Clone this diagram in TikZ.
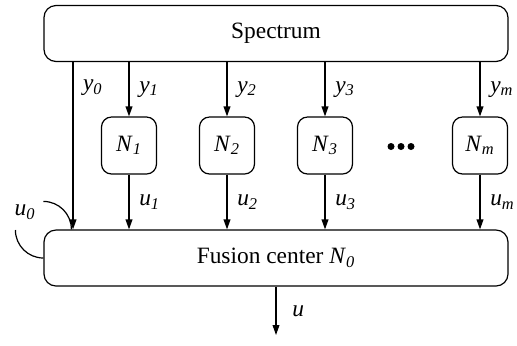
\documentclass[tikz,border=0pt]{standalone}
\usepackage{fontspec}
\setmainfont{Liberation Serif}
\usetikzlibrary{arrows.meta,positioning}
\tikzset{
  bigbox/.style={draw, rounded corners=6pt, minimum width=232pt, minimum height=28pt, line width=0.6pt, inner sep=0pt},
  sensor/.style={draw, rounded corners=5pt, minimum width=27.5pt, minimum height=28.5pt, line width=0.6pt, inner sep=0pt},
  sigln/.style={-{Triangle[length=5pt,width=3.4pt]}, line width=0.6pt},
  thinln/.style={line width=0.6pt},
}
\newcommand{\itsub}[2]{\textit{#1}\textsubscript{\textit{#2}}}

\begin{document}
\begin{tikzpicture}[x=0.5pt, y=-0.5pt, font=\fontsize{11.7}{14}\selectfont]
    \useasboundingbox (0,0) rectangle (517,345);
    \node[bigbox] (spec) at (276,33.5) {Spectrum};
    \node[bigbox] (fc) at (276,258) {Fusion center \itsub{N}{0}};
    % sensors
    \foreach \n/\x/\s in {n1/129/1, n2/227/2, n3/325/3, nm/480/m} {
      \node[sensor] (\n) at (\x,145.5) {\itsub{N}{\s}};
      \draw[sigln] (spec.south -| \n) -- node[right=1.5pt] {\itsub{y}{\s}} (\n);
      \draw[sigln] (\n) -- node[right=1.5pt] {\itsub{u}{\s}} (fc.north -| \n);
    }
    \foreach \d in {-10,0,10}
      \fill (401+\d,146.5) circle (3.5);
    % direct observation
    \coordinate (tap) at (73,88);
    \draw[sigln] (spec.south -| tap) -- (fc.north -| tap);
    \node[right=1.5pt] (ylab) at (tap) {\itsub{y}{0}};
    % own decision
    \coordinate (corner) at (fc.north west);
    \draw[thinln] (fc.west) arc (90:180:28);
    \draw[thinln] ([yshift=14pt]corner) arc (-90:0:28);
    \node (ulab) at (25,212) {\itsub{u}{0}};
    % output
    \coordinate (out) at (276,335);
    \draw[sigln] (fc.south) -- node[right=4.5pt] {\textit{u}} (out);
\end{tikzpicture}
\end{document}
